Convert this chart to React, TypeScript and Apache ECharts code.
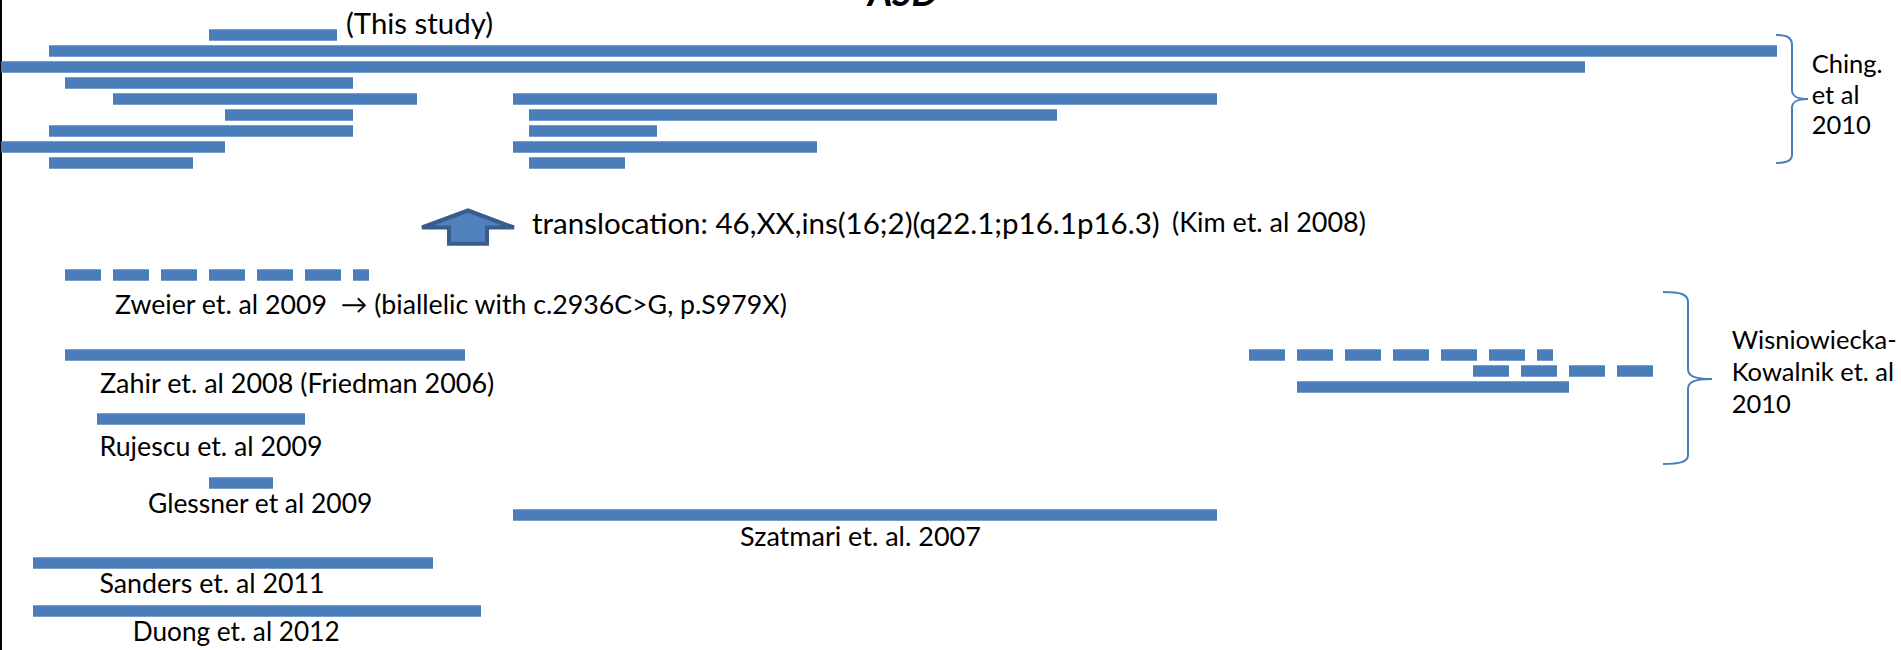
import React, { useEffect, useRef } from "react";
import * as echarts from "echarts";

// Each CNV: [start, end, track]. Positions are in arbitrary genomic units,
// track is the row index (top = 0).
const thisStudy = [[13, 21, 0]];
const chingCnvs = [
  [3, 111, 1],
  [0, 99, 2],
  [4, 22, 3],
  [7, 26, 4],
  [32, 76, 4],
  [14, 22, 5],
  [33, 66, 5],
  [3, 22, 6],
  [33, 41, 6],
  [0, 14, 7],
  [32, 51, 7],
  [3, 12, 8],
  [33, 39, 8],
];
const zweierCnvs = [[4, 23, 15]];
const zahirCnvs = [[4, 29, 20]];
const wisniowieckaDashed = [
  [78, 97, 20],
  [92, 103.25, 21],
];
const wisniowieckaSolid = [[81, 98, 22]];
const rujescuCnvs = [[6, 19, 24]];
const glessnerCnvs = [[13, 17, 28]];
const szatmariCnvs = [[32, 76, 30]];
const sandersCnvs = [[2, 27, 33]];
const duongCnvs = [[2, 30, 36]];

const titleText = "ASD";
const thisStudyLabel = "(This study)";
const translocationLabel = "translocation: 46,XX,ins(16;2)(q22.1;p16.1p16.3)";
const kimLabel = "(Kim et. al 2008)";
const zweierLabel = "Zweier et. al 2009  \u2192 (biallelic with c.2936C>G, p.S979X)";
const zahirLabel = "Zahir et. al 2008 (Friedman 2006)";
const rujescuLabel = "Rujescu et. al 2009";
const glessnerLabel = "Glessner et al 2009";
const szatmariLabel = "Szatmari et. al. 2007";
const sandersLabel = "Sanders et. al 2011";
const duongLabel = "Duong et. al 2012";
const chingLines = ["Ching.", "et al", "2010"];
const wisniowieckaLines = ["Wisniowiecka-", "Kowalnik et. al", "2010"];

const BLUE = "#4a7ebb";
const FONT = "Lato";
const BAR_H = 0.73;

let shapesRegistered = false;
function registerShapes() {
  if (shapesRegistered) return;
  shapesRegistered = true;
  const dChing =
    "M1776 35 C1786 35 1792 37 1792 45 L1792 90 C1792 96 1796 99 1808 99 C1796 99 1792 102 1792 108 L1792 155 C1792 161 1786 163 1776 163";
  const dWisn =
    "M1663 292 C1680 292 1688 294 1688 302 L1688 369 C1688 376 1694 379 1712 379 C1694 379 1688 382 1688 389 L1688 455 C1688 462 1680 464 1663 464";
  echarts.graphic.registerShape("braceChing", echarts.graphic.extendPath(dChing, {}));
  echarts.graphic.registerShape("braceWisn", echarts.graphic.extendPath(dWisn, {}));
}

function fitSize(text: string, width: number, weight = "normal", style = "normal") {
  const ctx = document.createElement("canvas").getContext("2d");
  if (!ctx) return 24;
  ctx.font = `${style} ${weight} 100px ${FONT}`;
  const w = ctx.measureText(text).width;
  return (100 * width) / w;
}

function solidSeries(name: string, data: number[][]) {
  return {
    type: "custom",
    name,
    data,
    encode: { x: [0, 1], y: 2 },
    renderItem: (_p: any, api: any) => {
      const s = api.coord([api.value(0), api.value(2)]);
      const e = api.coord([api.value(1), api.value(2)]);
      const h = api.size([0, BAR_H])[1];
      return {
        type: "rect",
        shape: { x: s[0], y: s[1] - h / 2, width: e[0] - s[0], height: h },
        style: { fill: BLUE },
      };
    },
  };
}

function dashedSeries(name: string, data: number[][]) {
  return {
    type: "custom",
    name,
    data,
    encode: { x: [0, 1], y: 2 },
    renderItem: (_p: any, api: any) => {
      const s = api.coord([api.value(0), api.value(2)]);
      const e = api.coord([api.value(1), api.value(2)]);
      const h = api.size([0, BAR_H])[1];
      const unit = api.size([1, 0])[0];
      return {
        type: "line",
        shape: { x1: s[0], y1: s[1], x2: e[0], y2: e[1] },
        style: {
          stroke: BLUE,
          lineWidth: h,
          lineDash: [2.25 * unit, 0.75 * unit],
          lineCap: "butt",
          fill: null,
        },
      };
    },
  };
}

function textEl(text: string, x: number, baseline: number, width: number, opts: any = {}) {
  const weight = opts.weight || "normal";
  const fstyle = opts.fontStyle || "normal";
  const fs = opts.fontSize || fitSize(text, width, weight, fstyle);
  return {
    type: "text",
    x,
    y: baseline - 0.36 * fs,
    silent: true,
    style: {
      text,
      fontFamily: FONT,
      fontSize: fs,
      fontWeight: weight,
      fontStyle: fstyle,
      fill: "#000",
      align: opts.align || "left",
      verticalAlign: "middle",
    },
  };
}

function buildOption() {
  const sideFs = fitSize(wisniowieckaLines[0], 165);
  const graphics: any[] = [
    textEl(titleText, 903, 5, 70, { weight: "bold", fontStyle: "italic", align: "center" }),
    textEl(thisStudyLabel, 346, 33.3, 147),
    textEl(translocationLabel, 532, 233, 628),
    textEl(kimLabel, 1172, 231, 194),
    textEl(zweierLabel, 115, 313.3, 673),
    textEl(zahirLabel, 100, 392.7, 395),
    textEl(rujescuLabel, 99.5, 456, 223),
    textEl(glessnerLabel, 148, 512.7, 225),
    textEl(szatmariLabel, 740, 545, 241),
    textEl(sandersLabel, 99.5, 592.7, 225),
    textEl(duongLabel, 132.7, 640.7, 207),
    ...chingLines.map((t, i) => textEl(t, 1811.7, [71.7, 102.7, 133.3][i], 0, { fontSize: sideFs })),
    ...wisniowieckaLines.map((t, i) => textEl(t, 1731.7, [348.3, 380, 411.7][i], 0, { fontSize: sideFs })),
    {
      type: "polygon",
      silent: true,
      shape: {
        points: [
          [468, 210.5],
          [514, 227.5],
          [487, 227.5],
          [487, 243.7],
          [449, 243.7],
          [449, 227.5],
          [422, 227.5],
        ],
      },
      style: { fill: "#4f81bd", stroke: "#385d8a", lineWidth: 4, lineJoin: "miter" },
    },
    { type: "braceChing", silent: true, style: { fill: "none", stroke: BLUE, lineWidth: 2 } },
    { type: "braceWisn", silent: true, style: { fill: "none", stroke: BLUE, lineWidth: 2 } },
  ];

  return {
    animation: false,
    backgroundColor: "#fff",
    grid: { left: 1, right: 0, top: 0, bottom: 0, containLabel: false },
    xAxis: {
      type: "value",
      min: 0,
      max: 118.75,
      axisLine: { show: false },
      axisTick: { show: false },
      axisLabel: { show: false },
      splitLine: { show: false },
    },
    yAxis: {
      type: "value",
      inverse: true,
      min: -2.1875,
      max: 38.4375,
      axisLine: { show: true, onZero: false, lineStyle: { color: "#000", width: 2 } },
      axisTick: { show: false },
      axisLabel: { show: false },
      splitLine: { show: false },
    },
    series: [
      solidSeries("This study", thisStudy),
      solidSeries("Ching et al 2010", chingCnvs),
      dashedSeries("Zweier et al 2009", zweierCnvs),
      solidSeries("Zahir et al 2008", zahirCnvs),
      dashedSeries("Wisniowiecka-Kowalnik et al 2010 (dashed)", wisniowieckaDashed),
      solidSeries("Wisniowiecka-Kowalnik et al 2010", wisniowieckaSolid),
      solidSeries("Rujescu et al 2009", rujescuCnvs),
      solidSeries("Glessner et al 2009", glessnerCnvs),
      solidSeries("Szatmari et al 2007", szatmariCnvs),
      solidSeries("Sanders et al 2011", sandersCnvs),
      solidSeries("Duong et al 2012", duongCnvs),
    ],
    graphic: { elements: graphics },
  };
}

export default function App() {
  const ref = useRef<HTMLDivElement>(null);
  useEffect(() => {
    if (!ref.current) return;
    registerShapes();
    const chart = echarts.init(ref.current, null, { renderer: "svg" });
    chart.setOption(buildOption() as any);
    return () => chart.dispose();
  }, []);
  return (
    <div
      ref={ref}
      style={{ position: "fixed", left: 0, top: 0, width: 1901, height: 650, background: "#fff" }}
    />
  );
}
